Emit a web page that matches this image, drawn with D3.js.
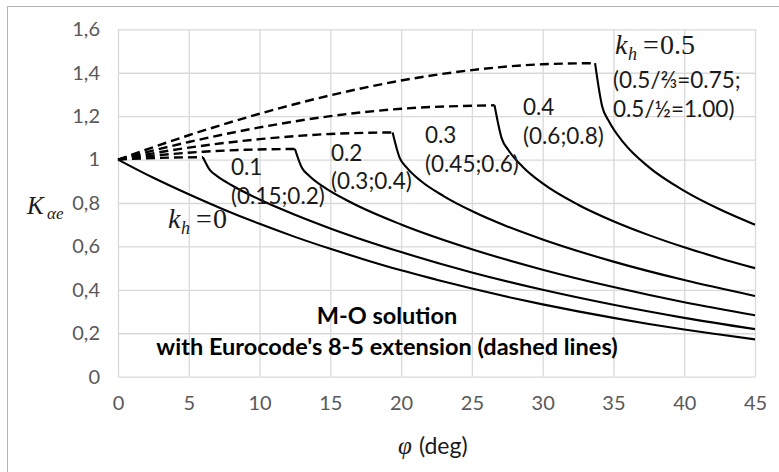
<!DOCTYPE html>
<html><head><meta charset="utf-8">
<script src="https://cdn.jsdelivr.net/npm/d3@7/dist/d3.min.js"></script>
<style>body{margin:0;background:#fff}svg{display:block}</style>
</head><body>
<svg id="c" width="779" height="472"></svg>
<script>
// ---- data ----
const xTicks = [0, 5, 10, 15, 20, 25, 30, 35, 40, 45];
const yTicks = [0, 0.2, 0.4, 0.6, 0.8, 1, 1.2, 1.4, 1.6];
const yTickLabels = ["0", "0,2", "0,4", "0,6", "0,8", "1", "1,2", "1,4", "1,6"];

// k_h = 0 (solid)
const phi0 = [0, 2.5, 5, 7.5, 10, 12.5, 15, 17.5, 20, 22.5, 25, 27.5, 30, 32.5, 35, 37.5, 40, 42.5, 45];
const K0   = [1, 0.916, 0.840, 0.769, 0.704, 0.644, 0.589, 0.538, 0.490, 0.447, 0.406, 0.368, 0.333, 0.301, 0.271, 0.243, 0.217, 0.194, 0.172];

// k_h = 0.1
const phi1d = [0, 3, 6.0];
const K1d   = [1, 1.008, 1.011];
const phi1  = [6.0, 6.5, 7, 8, 10, 12.5, 15, 20, 25, 30, 35, 40, 45];
const K1    = [1.011, 0.951, 0.924, 0.883, 0.816, 0.746, 0.683, 0.574, 0.480, 0.400, 0.331, 0.271, 0.219];

// k_h = 0.2
const phi2d = [0, 3, 6, 9, 12.5];
const K2d   = [1, 1.021, 1.036, 1.045, 1.049];
const phi2  = [12.5, 13.0, 13.5, 14.5, 16.5, 20, 25, 30, 35, 40, 45];
const K2    = [1.049, 0.961, 0.926, 0.875, 0.801, 0.701, 0.587, 0.493, 0.413, 0.343, 0.283];

// k_h = 0.3
const phi3d = [0, 5, 10, 15, 19.4];
const K3d   = [1, 1.055, 1.094, 1.118, 1.125];
const phi3  = [19.4, 19.9, 20.4, 21.4, 23, 25, 27.5, 30, 35, 40, 45];
const K3    = [1.125, 1.008, 0.963, 0.901, 0.832, 0.763, 0.692, 0.632, 0.530, 0.445, 0.372];

// k_h = 0.4
const phi4d = [0, 5, 10, 15, 20, 26.6];
const K4d   = [1, 1.081, 1.148, 1.200, 1.234, 1.250];
const phi4  = [26.6, 27.1, 27.6, 28.6, 30, 32.5, 35, 37.5, 40, 42.5, 45];
const K4    = [1.250, 1.099, 1.042, 0.966, 0.890, 0.792, 0.716, 0.652, 0.596, 0.546, 0.500];

// k_h = 0.5
const phi5d = [0, 5, 10, 15, 20, 25, 30, 33.7];
const K5d   = [1, 1.112, 1.211, 1.296, 1.364, 1.412, 1.439, 1.444];
const phi5  = [33.7, 34.2, 34.7, 35.7, 37.5, 40, 42.5, 45];
const K5    = [1.444, 1.246, 1.174, 1.079, 0.965, 0.856, 0.771, 0.700];

const series = [
  {phi: phi0, k: K0, dashed: false},
  {phi: phi1d, k: K1d, dashed: true}, {phi: phi1, k: K1, dashed: false},
  {phi: phi2d, k: K2d, dashed: true}, {phi: phi2, k: K2, dashed: false},
  {phi: phi3d, k: K3d, dashed: true}, {phi: phi3, k: K3, dashed: false},
  {phi: phi4d, k: K4d, dashed: true}, {phi: phi4, k: K4, dashed: false},
  {phi: phi5d, k: K5d, dashed: true}, {phi: phi5, k: K5, dashed: false}
];

// ---- drawing ----
const svg = d3.select("#c");
svg.append("rect").attr("width", 779).attr("height", 472).attr("fill", "#fff");
svg.append("rect").attr("x", 7.5).attr("y", 6.5).attr("width", 900).attr("height", 600)
   .attr("fill", "none").attr("stroke", "#b4b4b4").attr("stroke-width", 1);

const x = d3.scaleLinear().domain([0, 45]).range([118, 755]);
const y = d3.scaleLinear().domain([0, 1.6]).range([376.7, 29.3]);
const W = x(45) - x(0), H = y(0) - y(1.6);
const tickFont = "Lato, 'Open Sans', sans-serif";

const gx = svg.append("g").attr("transform", `translate(0,${y(0)})`)
  .call(d3.axisBottom(x).tickValues(xTicks).tickSize(-H).tickPadding(19).tickFormat(d3.format("d")));
const gy = svg.append("g").attr("transform", `translate(${x(0)},0)`)
  .call(d3.axisLeft(y).tickValues(yTicks).tickSize(-W).tickPadding(18).tickFormat((d, i) => yTickLabels[i]));
[gx, gy].forEach(g => {
  g.select(".domain").remove();
  g.selectAll(".tick line").attr("stroke", "#d9d9d9").attr("stroke-width", 1.3);
  g.selectAll(".tick text").attr("fill", "#595959").style("font-family", tickFont).style("font-size", "20px");
});

const line = d3.line().x(d => x(d[0])).y(d => y(d[1])).curve(d3.curveMonotoneX);
svg.append("g").selectAll("path").data(series).join("path")
  .attr("d", s => line(s.phi.map((p, i) => [p, s.k[i]])))
  .attr("fill", "none").attr("stroke", "#000")
  .attr("stroke-width", s => s.dashed ? 2.4 : 2.1)
  .attr("stroke-dasharray", s => s.dashed ? "9,5" : null)
  .attr("stroke-linejoin", "round");

// ---- annotations ----
const ann = svg.append("g").attr("fill", "#1a1a1a").style("font-family", tickFont).style("font-size", "22.5px");
const labels = [
  ["0.1", 231, 175], ["(0.15;0.2)", 231, 204],
  ["0.2", 331, 161], ["(0.3;0.4)", 331, 189],
  ["0.3", 425, 143], ["(0.45;0.6)", 425, 172],
  ["0.4", 523, 115], ["(0.6;0.8)", 523, 144],
  ["(0.5/⅔=0.75;", 613, 88], ["0.5/½=1.00)", 613, 117]
];
ann.selectAll("text").data(labels).join("text")
  .attr("x", d => d[1]).attr("y", d => d[2]).text(d => d[0]);

const serif = "'Liberation Serif', 'DejaVu Serif', serif";
function kh(x0, base, val) {
  const g = svg.append("g").attr("fill", "#1a1a1a").style("font-family", serif);
  g.append("text").attr("x", x0).attr("y", base).style("font-size", "28px").style("font-style", "italic").text("k");
  g.append("text").attr("x", x0 + 13).attr("y", base + 6).style("font-size", "18px").style("font-style", "italic").text("h");
  g.append("text").attr("x", x0 + 28).attr("y", base).style("font-size", "28px").text("=");
  g.append("text").attr("x", x0 + 45).attr("y", base).style("font-size", "28px").text(val);
}
kh(168, 228, "0");
kh(615, 54, "0.5");

// y-axis title
const yt = svg.append("g").attr("fill", "#1a1a1a").style("font-family", serif);
yt.append("text").attr("x", 27).attr("y", 214).style("font-size", "25px").style("font-style", "italic").text("K");
yt.append("text").attr("x", 47).attr("y", 219).style("font-size", "17px").style("font-style", "italic").text("αe");

// x-axis title
svg.append("text").attr("x", 398).attr("y", 454).attr("fill", "#1a1a1a")
  .style("font-family", serif).style("font-size", "25px").style("font-style", "italic").text("φ");
svg.append("text").attr("x", 419).attr("y", 454).attr("fill", "#1a1a1a")
  .style("font-family", tickFont).style("font-size", "23px").text("(deg)");

// note
const note = svg.append("g").attr("fill", "#000").style("font-family", tickFont)
  .style("font-size", "23.5px").style("font-weight", "bold").attr("text-anchor", "middle");
note.append("text").attr("x", 387).attr("y", 324).text("M-O solution");
note.append("text").attr("x", 387).attr("y", 355).text("with Eurocode's 8-5 extension (dashed lines)");
</script>
</body></html>
